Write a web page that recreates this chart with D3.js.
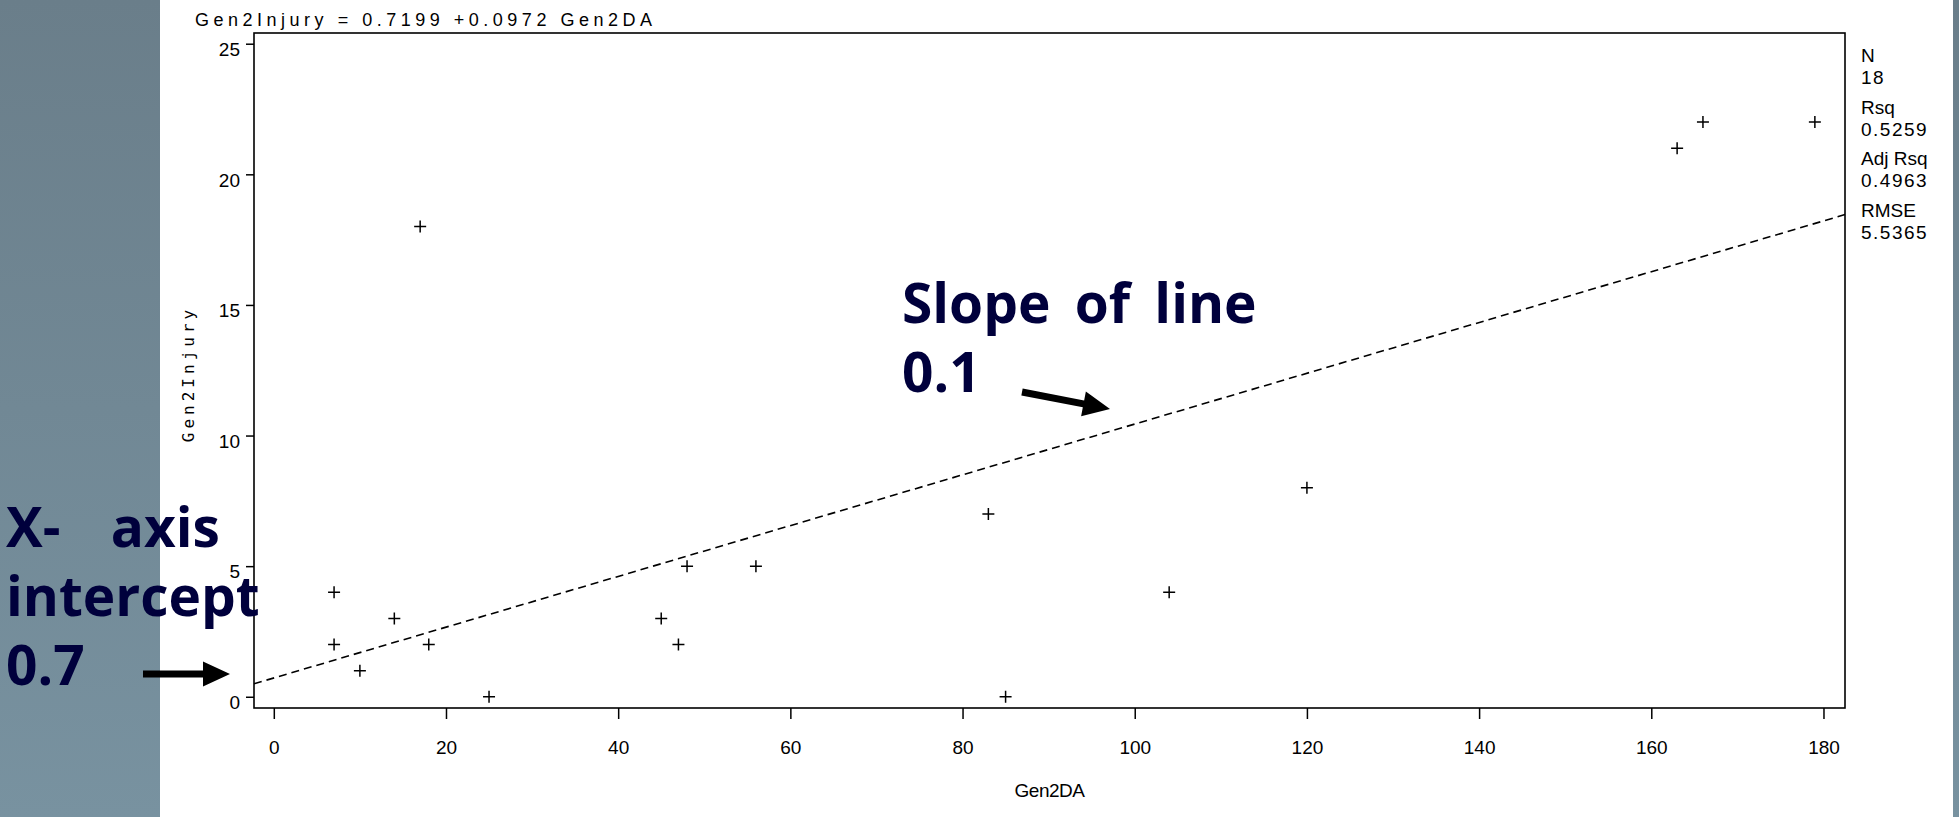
<!DOCTYPE html>
<html>
<head>
<meta charset="utf-8">
<script src="https://cdn.jsdelivr.net/npm/d3@7"></script>
<style>
  body { margin: 0; background: #fff; }
  svg { display: block; }
  text { font-family: "Liberation Sans", Arial, sans-serif; }
</style>
</head>
<body>
<svg id="chart" width="1959" height="817"></svg>
<script>
// data
var gen2DA     = [7, 7, 10, 14, 17, 18, 25, 45, 47, 48, 56, 83, 85, 104, 120, 163, 166, 179];
var gen2Injury = [4, 2, 1, 3, 18, 2, 0, 3, 2, 5, 5, 7, 0, 4, 8, 21, 22, 22];
var intercept = 0.7199;
var slope = 0.0972;
var xTicks = [0, 20, 40, 60, 80, 100, 120, 140, 160, 180];
var yTicks = [0, 5, 10, 15, 20, 25];
var statNames  = ['N', 'Rsq', 'Adj Rsq', 'RMSE'];
var statValues = ['18', '0.5259', '0.4963', '5.5365'];

var svg = d3.select('#chart');

// slide background strips
var grad = svg.append('defs').append('linearGradient')
  .attr('id', 'side').attr('x1', 0).attr('y1', 0).attr('x2', 0).attr('y2', 1);
grad.append('stop').attr('offset', 0).attr('stop-color', '#6a7e8a');
grad.append('stop').attr('offset', 1).attr('stop-color', '#7892a0');
svg.append('rect').attr('x', 0).attr('y', 0).attr('width', 160).attr('height', 817).attr('fill', 'url(#side)');
svg.append('rect').attr('x', 1953).attr('y', 0).attr('width', 6).attr('height', 817).attr('fill', 'url(#side)');

// scales (plot box in px)
var pl = 254, pr = 1845, pt = 33, pb = 708;
var x = d3.scaleLinear().domain([-2.3, 182.5]).range([pl, pr]);
var y = d3.scaleLinear().domain([-0.43, 25.41]).range([pb, pt]);

// frame
svg.append('rect')
  .attr('x', pl).attr('y', pt)
  .attr('width', pr - pl).attr('height', pb - pt)
  .attr('fill', 'none').attr('stroke', '#000').attr('stroke-width', 1.6);

// axes
var xAxis = svg.append('g')
  .attr('transform', 'translate(0,' + pb + ')')
  .call(d3.axisBottom(x).tickValues(xTicks).tickSize(11).tickPadding(22));
var yAxis = svg.append('g')
  .attr('transform', 'translate(' + pl + ',0)')
  .call(d3.axisLeft(y).tickValues(yTicks).tickSize(8).tickPadding(6));

[xAxis, yAxis].forEach(function(g) {
  g.select('.domain').remove();
  g.selectAll('line').attr('stroke', '#000').attr('stroke-width', 1.5);
  g.selectAll('text')
    .attr('fill', '#000')
    .style('font-family', '"Liberation Sans", Arial, sans-serif')
    .style('font-size', '19px');
});
yAxis.selectAll('text').attr('dy', '0.62em');

// fitted line
var line = d3.line()
  .x(function(d) { return x(d); })
  .y(function(d) { return y(intercept + slope * d); });
svg.append('path')
  .datum(x.domain())
  .attr('d', line)
  .attr('fill', 'none')
  .attr('stroke', '#000')
  .attr('stroke-width', 1.6)
  .attr('stroke-dasharray', '8,5');

// points as plus signs
svg.selectAll('.pt')
  .data(gen2DA)
  .enter()
  .append('path')
  .attr('class', 'pt')
  .attr('transform', function(d, i) { return 'translate(' + x(d) + ',' + y(gen2Injury[i]) + ')'; })
  .attr('d', 'M-6,0H6M0,-6V6')
  .attr('stroke', '#000')
  .attr('stroke-width', 1.5);

// equation on top
svg.append('text')
  .attr('x', 195).attr('y', 26)
  .attr('textLength', 457).attr('lengthAdjust', 'spacing')
  .style('font-size', '18px')
  .text('Gen2Injury = 0.7199 +0.0972 Gen2DA');

// axis titles
svg.append('text')
  .attr('x', (pl + pr) / 2).attr('y', 797)
  .attr('text-anchor', 'middle')
  .style('font-size', '19px')
  .style('letter-spacing', '-0.5px')
  .text('Gen2DA');

svg.append('text')
  .attr('transform', 'translate(194,374) rotate(-90)')
  .attr('text-anchor', 'middle')
  .style('font-family', '"DejaVu Sans Mono", monospace')
  .style('font-size', '16px')
  .style('letter-spacing', '4px')
  .text('Gen2Injury');

// stats block
var stats = svg.append('g').attr('transform', 'translate(1861,0)');
statNames.forEach(function(n, i) {
  var base = 62 + i * 51.7;
  stats.append('text').attr('y', base).style('font-size', '19px').text(n);
  stats.append('text').attr('y', base + 22).style('font-size', '19px')
    .style('letter-spacing', '1.5px').text(statValues[i]);
});

// annotations
var navy = '#00003c';
function note(lines, x0, y0, gaps) {
  var t = svg.append('text')
    .attr('fill', navy)
    .style('font-family', '"Open Sans", sans-serif')
    .style('font-weight', 700)
    .style('font-size', '55px');
  lines.forEach(function(s, i) {
    t.append('tspan').attr('x', x0).attr('y', y0 + i * 69)
      .style('word-spacing', gaps[i] + 'px')
      .text(s);
  });
}
note(['Slope of line', '0.1'], 902, 323, [10, 10]);
note(['X- axis', 'intercept', '0.7'], 6, 547, [36, 10, 10]);

function arrow(x1, y1, x2, y2) {
  var len = Math.hypot(x2 - x1, y2 - y1);
  var a = Math.atan2(y2 - y1, x2 - x1) * 180 / Math.PI;
  var hl = 27, hw = 12.5, sw = 3.5;
  var p = [[0, -sw], [len - hl, -sw], [len - hl, -hw], [len, 0], [len - hl, hw], [len - hl, sw], [0, sw]];
  svg.append('path')
    .attr('transform', 'translate(' + x1 + ',' + y1 + ') rotate(' + a + ')')
    .attr('d', 'M' + p.join('L') + 'Z')
    .attr('fill', '#000');
}
arrow(1022, 392, 1110, 409);
arrow(143, 674, 230, 674);
</script>
</body>
</html>
